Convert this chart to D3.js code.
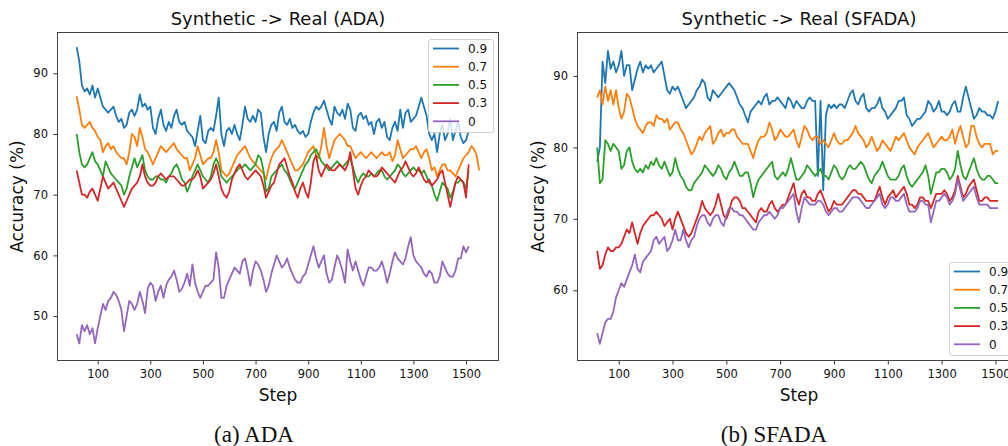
<!DOCTYPE html>
<style>
  body { margin: 0; background: white; }
  svg { display: block; }
  text { font-family: "DejaVu Sans", sans-serif; fill: #111; }
  .caption { font-family: "Liberation Serif", "DejaVu Serif", serif; }
  .frame { fill: none; stroke: #444; stroke-width: 1; }
  .series { fill: none; stroke-width: 1.8; stroke-linejoin: round; }
</style>
<body></body>
<script src="https://cdn.jsdelivr.net/npm/d3@7/dist/d3.min.js"></script>
<script>
  const W = 1008, H = 446;

  // legend labels and colours, drawn in this order
  const labels = ['0.9', '0.7', '0.5', '0.3', '0'];
  const colors = ['#1f77b4', '#ff7f0e', '#2ca02c', '#d62728', '#9467bd'];

  const xTicks = [100, 300, 500, 700, 900, 1100, 1300, 1500];
  const adaYTicks = [50, 60, 70, 80, 90];
  const sfadaYTicks = [60, 70, 80, 90];

  // every series is sampled from step 20, one value per 10 steps
  const stepStart = 20, stepSize = 10;

  // ---- ADA ----
  const ada09 = [
    94.3, 92, 88, 87, 87.5, 86.5, 88, 86, 87.5, 86,
    84.5, 84, 83.5, 84, 84.5, 83, 82, 82.5, 81, 81.5,
    83.5, 84, 83, 84, 86.5, 84.5, 85, 84, 84.5, 81,
    80, 82.5, 84, 81.5, 80.5, 82, 81, 83, 84, 82,
    81.5, 82, 80.5, 80, 79.5, 78, 80.5, 83, 79, 78.5,
    80.5, 81, 80.5, 83, 86, 80, 78, 80.5, 81, 80,
    81.5, 80, 79, 81.5, 84.5, 82.5, 82, 83, 82, 84,
    83.5, 79.5, 77, 80, 81.5, 82, 80.5, 83.5, 84.5, 82,
    81.5, 82.5, 81, 81.5, 80.5, 80, 80.5, 79.5, 80, 82,
    83.5, 84.5, 84, 84.5, 85.5, 84, 82.5, 81.5, 84.5, 83.5,
    83, 84, 82.5, 85, 84, 81, 80.5, 83, 83.5, 82.5,
    83, 81.5, 82, 80, 82, 82.5, 81, 82, 79.5, 79,
    81, 82, 80.5, 84, 81, 83.5, 84, 82, 82.5, 83,
    84.5, 86, 84.5, 83, 80, 79, 80, 77, 80, 81.5,
    79, 80, 82.5, 79, 80.5, 82, 79.5, 78.5, 79, 80.5
  ];
  const ada07 = [
    86.2, 84, 81.5, 81, 81.5, 82, 81, 80.5, 79.5, 79,
    77, 78, 78.5, 77.5, 78, 77, 76.5, 76, 76, 75,
    77, 80, 79.5, 78, 81, 79.5, 77.5, 77, 76, 75,
    76, 77, 78, 77.5, 77, 77.5, 78, 78.5, 77.5, 77,
    76.5, 76, 76, 74, 75, 76, 78, 76.5, 75, 75.5,
    76, 76, 77, 79, 77, 74, 73.5, 73, 73.5, 74.5,
    75.5, 76.5, 77, 77.5, 78, 77, 76, 75.5, 75, 74.5,
    74, 73.5, 72.5, 74.5, 76, 77, 77.5, 78, 79, 78,
    77, 76, 75, 74, 74, 74.5, 75, 76, 77, 77.5,
    78, 76.5, 76, 78, 81, 78, 76, 77.5, 79, 79.5,
    80, 79.5, 79, 78, 78, 77, 76, 76.5, 77, 76.5,
    76, 76.5, 77, 76.5, 76, 76.5, 77, 76.5, 76.5, 77,
    75.5, 76.5, 79, 77.5, 76, 76.5, 77, 77.5, 77.5, 78,
    77, 76, 77, 77.5, 76, 74, 74.5, 73, 74, 75,
    75, 74, 74, 73.5, 73, 74, 75, 76, 76.5, 77,
    78, 77.5, 76.5, 74
  ];
  const ada05 = [
    80, 77, 75, 74.5, 75, 76, 77, 75.5, 75, 74,
    73, 75.5, 74.5, 73.5, 73, 72.5, 72, 71.5, 70, 71,
    73, 74.5, 76, 74.5, 75.5, 76.5, 74, 73, 72.5, 72.5,
    73, 73, 72.5, 72.5, 72, 73, 73.5, 74.5, 75, 74,
    72.5, 72, 70.5, 71.5, 73, 74, 75, 74, 73, 72.5,
    72, 73, 75, 76, 75, 73, 72.5, 72, 72.5, 73,
    73.5, 74, 74.5, 74.5, 75, 74.5, 74, 74.5, 75, 76.5,
    76, 74, 70.5, 71, 73, 73.5, 74, 74.5, 75, 74,
    73.5, 72.5, 71.5, 71, 72, 73, 74, 75, 75.5, 76.5,
    77, 77.5, 76.5, 75.5, 75, 74.5, 74, 74.5, 75, 75.5,
    75, 74.5, 75, 75.5, 76, 74.5, 73, 72, 73, 73.5,
    73, 73, 73.5, 73, 73.5, 74, 74, 73, 72.5, 73,
    73.5, 74, 75, 74.5, 73.5, 73, 73.5, 74, 74.5, 74,
    74, 73.5, 74, 73, 72, 71.5, 70, 69, 70.5, 72,
    71.5, 71, 69.5, 70.5, 72, 72, 72.5, 72, 71, 74
  ];
  const ada03 = [
    74, 72, 70, 70, 69.5, 70.5, 71, 70, 69, 71,
    73, 72, 71, 71.5, 72, 71, 70, 69, 68, 69,
    70, 71, 71.5, 72, 73, 75, 73, 72, 71.5, 71.5,
    72, 73, 73.5, 73, 72.5, 73, 73, 73, 72.5, 72,
    71.5, 71.5, 72, 72.5, 72.5, 73, 74, 73, 71, 71.5,
    72, 72.5, 73.5, 75, 73, 71, 70, 69.5, 70.5, 72.5,
    73.5, 74.5, 75, 74, 73, 72.5, 73, 73.5, 74, 73.5,
    73, 71.5, 69.5, 70.5, 71.5, 72, 73.5, 75, 75.5, 76,
    74.5, 73, 72, 70.5, 69.5, 71, 72, 70.5, 69.5, 72,
    75.5, 76.5, 74, 73, 74, 75, 74.5, 74, 74, 74.5,
    75, 74.5, 74, 75, 77, 74, 71, 70, 71.5, 72.5,
    73, 74, 73.5, 73, 73, 73.5, 74.5, 74, 73.5, 73,
    72.5, 72, 73, 74, 74.5, 75.5, 74.5, 73.5, 73, 73.5,
    74.5, 73.5, 72.5, 72, 72.5, 71.5, 72, 72.5, 73.5, 74,
    72, 70, 68, 70, 72, 73, 72.5, 72, 69.5, 75
  ];
  const ada00 = [
    47, 45.5, 48.5, 47.5, 48.5, 47, 48, 45.5, 48, 50,
    52, 51, 52.5, 53, 54, 53.5, 52.5, 51, 47.5, 50,
    52.5, 52, 51, 52, 54, 52.5, 50.5, 54.5, 55.5, 55,
    52.5, 54, 55, 53, 55, 56, 56.5, 57.5, 56, 54,
    54.5, 55.5, 57, 55, 58.5, 55.5, 54, 53, 54, 55,
    55, 55.5, 56, 60.5, 58, 53, 53, 55, 56, 57,
    58, 57.5, 57, 59, 59.5, 57.5, 55, 57.5, 59, 58.5,
    57.5, 56, 54, 55, 57, 58.5, 60, 59, 58, 58.5,
    59.5, 58, 57, 56, 55.5, 55.5, 56.5, 57, 58.5, 60,
    61.5, 59.5, 58, 59, 60, 57, 55.5, 56, 58, 60,
    59, 57.5, 55.5, 61, 59, 57.5, 59, 57.5, 56, 55,
    56.5, 58, 58, 57.5, 57.5, 58, 59, 57.5, 55.5, 57,
    59, 60.5, 59.5, 59, 58.5, 59.5, 61.5, 63, 60, 59,
    58.5, 58, 57, 56.5, 57.5, 57, 55.5, 55.5, 56.5, 59,
    58, 57, 56.5, 56.5, 57.5, 59.5, 59.5, 61.5, 60.5, 61.5
  ];

  // ---- SFADA ----
  const sfada09 = [
    78, 80, 92, 89, 93.5, 91, 92, 90.5, 91.5, 93.5,
    90, 91.5, 91.5, 88, 89.5, 91, 92, 90.5, 91.5, 91,
    91.5, 90.5, 91, 91.5, 92, 90, 88, 87.5, 88.5, 88,
    88.5, 87.5, 86.5, 85.5, 86, 86.5, 87, 88, 88.5, 89.5,
    89, 87, 86.5, 88, 87.5, 87, 87.5, 88, 88.5, 89,
    88.5, 88, 87, 86, 85.5, 84.5, 83.5, 85, 85.5, 86,
    86.5, 86, 87, 87.5, 86, 86.5, 86.5, 87, 86.5, 86,
    85.5, 87, 86.5, 85.5, 86.5, 86, 85.5, 85.5, 86.5, 87,
    86.5, 86.5, 76, 86.5, 74, 84.5, 86, 85.5, 86, 85.5,
    86, 86, 85.5, 86.5, 87.5, 88, 86.5, 86, 87, 87.5,
    85.5, 85, 85.5, 85.5, 86, 87, 85.5, 85, 84, 84.5,
    85, 85.5, 86.5, 86.5, 87, 84.5, 84, 83, 83.5, 84,
    84, 84.5, 85, 86.5, 86, 85, 85.5, 86.5, 85, 85,
    84.5, 85, 86, 86.5, 85, 85, 87, 88.5, 87, 85.5,
    84, 84.5, 85.5, 85, 85, 84.5, 84.5, 84, 85, 86.5
  ];
  const sfada07 = [
    87, 88, 86, 88.5, 86.5, 88, 86, 88, 85.5, 84,
    85, 87.5, 87, 85.5, 84, 83, 82.5, 82, 83, 83.5,
    83.5, 83, 84.5, 84, 84, 83.5, 84, 82.5, 83, 83.5,
    83.5, 82.5, 82, 81, 80, 79, 79.5, 80.5, 81.5, 81,
    82, 82.5, 83, 80.5, 81, 82, 82.5, 81.5, 82, 82,
    82.5, 82.5, 81.5, 81, 80.5, 80.5, 80.5, 79.5, 78.5, 80,
    81, 81.5, 81.5, 82, 83.5, 82.5, 81, 81.5, 82.5, 82,
    81.5, 81.5, 82, 82.5, 81, 80, 81.5, 83, 82.5, 81.5,
    81, 81.5, 81.5, 80.5, 81, 80.5, 80, 81, 82, 81,
    80.5, 80.5, 81, 81, 81.5, 82, 83, 82, 81.5, 81,
    80, 80.5, 81.5, 80.5, 79.5, 80, 81, 80.5, 80, 79.5,
    80.5, 81.5, 81, 81.5, 82, 81, 80, 79.5, 79, 80,
    80.5, 81, 81.5, 82, 81, 80, 80.5, 81, 81.5, 81,
    81, 81.5, 82.5, 80.5, 82, 83, 81.5, 80, 80.5, 83,
    83, 81.5, 80.5, 80, 80.5, 80.5, 80.5, 79, 79.5, 79.5
  ];
  const sfada05 = [
    80, 75, 75.5, 81, 80.5, 79.5, 80.5, 80, 79.5, 77,
    77.5, 79.5, 80, 78, 77, 76.5, 77, 76.5, 77.5, 77,
    78, 77.5, 78.5, 77.5, 77, 78, 77, 76, 76.5, 78.5,
    77, 76, 75.5, 74.5, 74, 74, 75, 75.5, 76, 76.5,
    77.5, 77, 76.5, 76, 76.5, 77.5, 77, 76, 75.5, 76.5,
    77, 78, 77, 76, 76, 76.5, 76.5, 75, 73, 74.5,
    75.5, 76, 76.5, 77, 77.5, 78, 76, 75.5, 76, 76.5,
    76, 77, 78.5, 77, 75.5, 75.5, 76, 76.5, 77.5, 77,
    76.5, 76, 76.5, 77, 76, 76, 75.5, 76.5, 77.5, 77,
    76, 75.5, 76, 77, 77.5, 77, 77, 77.5, 78, 77.5,
    76.5, 75.5, 75, 76, 76.5, 77, 78, 77, 76, 75.5,
    75.5, 75.5, 76, 77, 77.5, 76, 75, 74.5, 75, 75.5,
    76, 76.5, 77.5, 76, 73.5, 75, 76.5, 76.5, 77, 77,
    76.5, 75.5, 76, 77, 79.5, 77.5, 76, 75.5, 76.5, 77.5,
    78.5, 77, 76, 75.5, 75.5, 76, 76, 75.5, 75, 75
  ];
  const sfada03 = [
    65.5, 63, 63.5, 65, 66, 65.5, 65.5, 66, 66, 66.5,
    67.5, 68.5, 68, 69.5, 68, 66.5, 68, 69, 69.5, 70,
    70.5, 70.5, 71, 70.5, 70, 69, 69.5, 70, 68.5, 70,
    71, 70, 69, 68, 67.5, 68, 69, 70, 71, 72.5,
    71.5, 71, 70.5, 71, 72, 73.5, 72, 70.5, 70, 71,
    72.5, 73, 73, 72.5, 71.5, 71.5, 71, 70.5, 70, 69.5,
    71, 71.5, 71, 71, 72, 72.5, 71.5, 71, 71.5, 72,
    72, 73, 74, 75, 73, 72, 73.5, 74, 73, 73,
    72.5, 72.5, 73.5, 74, 73, 72, 71, 71.5, 72.5, 72,
    72, 72, 72.5, 73, 73.5, 74, 74, 73.5, 73.5, 73,
    72.5, 72.5, 72.5, 72.5, 73.5, 74.5, 73, 72, 73, 73.5,
    74, 73, 73.5, 74, 74.5, 73.5, 72, 72, 71.5, 72,
    73, 73, 72.5, 72.5, 71.5, 72.5, 73.5, 73.5, 73.5, 74,
    73.5, 72.5, 73, 74, 76, 74.5, 73, 73.5, 74.5, 75,
    75.5, 74, 72.5, 72.5, 73, 73, 72.5, 72.5, 72.5, 72.5
  ];
  const sfada00 = [
    54, 52.5, 54, 55.5, 56, 56, 57, 59, 60, 61,
    60.5, 61.5, 62.5, 63.5, 65, 63, 62.5, 64, 64.5, 65,
    65.5, 67, 67.5, 66.5, 67, 67.5, 65.5, 66, 67, 68.5,
    67, 67, 68.5, 67, 66, 67, 67.5, 69, 70, 70.5,
    70.5, 69.5, 69, 70, 70.5, 70.5, 69.5, 69, 70.5, 71.5,
    71.5, 71, 71, 70.5, 70.5, 70, 69.5, 69, 68.5, 68.5,
    69.5, 70, 70.5, 70.5, 71, 70.5, 70, 70.5, 71.5, 71.5,
    72, 72.5, 73, 73.5, 71, 69.5, 71.5, 73, 72.5, 72,
    72, 72, 72.5, 72.5, 72, 71, 70.5, 71, 71.5, 71.5,
    71, 71, 71.5, 72, 72.5, 73, 73, 73, 72.5, 72,
    71.5, 71.5, 72, 72.5, 73, 73.5, 72, 71.5, 72, 73,
    73, 72.5, 72.5, 73, 73.5, 72, 71, 71, 71, 71.5,
    72.5, 72.5, 72, 72, 69.5, 71, 72.5, 72.5, 73, 73.5,
    73, 72, 72.5, 73.5, 75.5, 74, 72.5, 73, 73.5, 74,
    74.5, 73, 72, 72, 72, 72, 71.5, 71.5, 71.5, 71.5
  ];

  const svg = d3.select('body').append('svg')
    .attr('width', W).attr('height', H)
    .style('overflow', 'hidden');

  function drawPanel(p) {
    const x = d3.scaleLinear().domain(p.xDomain).range([p.l, p.r]);
    const y = d3.scaleLinear().domain(p.yDomain).range([p.b, p.t]);
    const g = svg.append('g');

    const clipId = 'clip-' + p.id;
    g.append('clipPath').attr('id', clipId)
      .append('rect')
      .attr('x', p.l).attr('y', p.t)
      .attr('width', p.r - p.l).attr('height', p.b - p.t);

    const line = d3.line()
      .x((d, i) => x(stepStart + i * stepSize))
      .y(d => y(d));

    g.append('g').attr('clip-path', `url(#${clipId})`)
      .selectAll('path')
      .data(p.series)
      .join('path')
      .attr('class', 'series')
      .attr('stroke', (d, i) => colors[i])
      .attr('d', d => line(d));

    // axes, ticks only; the frame is a rect
    const xa = g.append('g')
      .attr('transform', `translate(0, ${p.b})`)
      .call(d3.axisBottom(x).tickValues(xTicks).tickFormat(d3.format('d'))
        .tickSize(3.5).tickPadding(5.5).tickSizeOuter(0));
    const ya = g.append('g')
      .attr('transform', `translate(${p.l}, 0)`)
      .call(d3.axisLeft(y).tickValues(p.yTicks).tickFormat(d3.format('d'))
        .tickSize(3.5).tickPadding(5.5).tickSizeOuter(0));
    [xa, ya].forEach(a => {
      a.select('.domain').remove();
      a.selectAll('line').attr('stroke', '#333');
      a.selectAll('text').style('font-size', '11.5px').attr('fill', '#111');
    });

    g.append('rect').attr('class', 'frame')
      .attr('x', p.l + 0.5).attr('y', p.t + 0.5)
      .attr('width', p.r - p.l - 1).attr('height', p.b - p.t - 1);

    const cx = (p.l + p.r) / 2;
    g.append('text').attr('x', cx).attr('y', 25)
      .attr('text-anchor', 'middle').style('font-size', '18px')
      .text(p.title);
    g.append('text').attr('x', cx).attr('y', 401)
      .attr('text-anchor', 'middle').style('font-size', '17px')
      .text('Step');
    g.append('text')
      .attr('transform', `translate(${p.ylabX}, ${(p.t + p.b) / 2}) rotate(-90)`)
      .attr('text-anchor', 'middle').style('font-size', '17px')
      .text('Accuracy (%)');

    // legend
    const lg = g.append('g').attr('transform', `translate(${p.legX}, ${p.legY})`);
    lg.append('rect')
      .attr('x', 0.5).attr('y', 0.5).attr('width', 65).attr('height', 93)
      .attr('rx', 2.5)
      .attr('fill', 'white').attr('fill-opacity', 0.8)
      .attr('stroke', '#d0d0d0').attr('stroke-width', 1);
    const items = lg.selectAll('g.item').data(labels).join('g')
      .attr('class', 'item')
      .attr('transform', (d, i) => `translate(0, ${9.5 + i * 18.2})`);
    items.append('line')
      .attr('x1', 5).attr('x2', 31).attr('y1', 0).attr('y2', 0)
      .attr('stroke', (d, i) => colors[i]).attr('stroke-width', 1.8);
    items.append('text')
      .attr('x', 40).attr('y', 0).attr('dy', '0.36em')
      .style('font-size', '12px')
      .text(d => d);

    svg.append('text').attr('class', 'caption')
      .attr('x', p.capX).attr('y', 442)
      .attr('text-anchor', 'middle').style('font-size', '23px')
      .text(p.caption);
  }

  drawPanel({
    id: 'ada', l: 57, r: 499, t: 32, b: 361,
    xDomain: [-54.7, 1625.3], yDomain: [42.6, 96.8], yTicks: adaYTicks,
    series: [ada09, ada07, ada05, ada03, ada00],
    title: 'Synthetic -> Real (ADA)', ylabX: 23,
    legX: 428, legY: 39, caption: '(a) ADA', capX: 254
  });
  drawPanel({
    id: 'sfada', l: 577, r: 1021, t: 32, b: 361,
    xDomain: [-55, 1595], yDomain: [50.1, 96.15], yTicks: sfadaYTicks,
    series: [sfada09, sfada07, sfada05, sfada03, sfada00],
    title: 'Synthetic -> Real (SFADA)', ylabX: 544,
    legX: 949, legY: 262, caption: '(b) SFADA', capX: 774
  });
</script>
